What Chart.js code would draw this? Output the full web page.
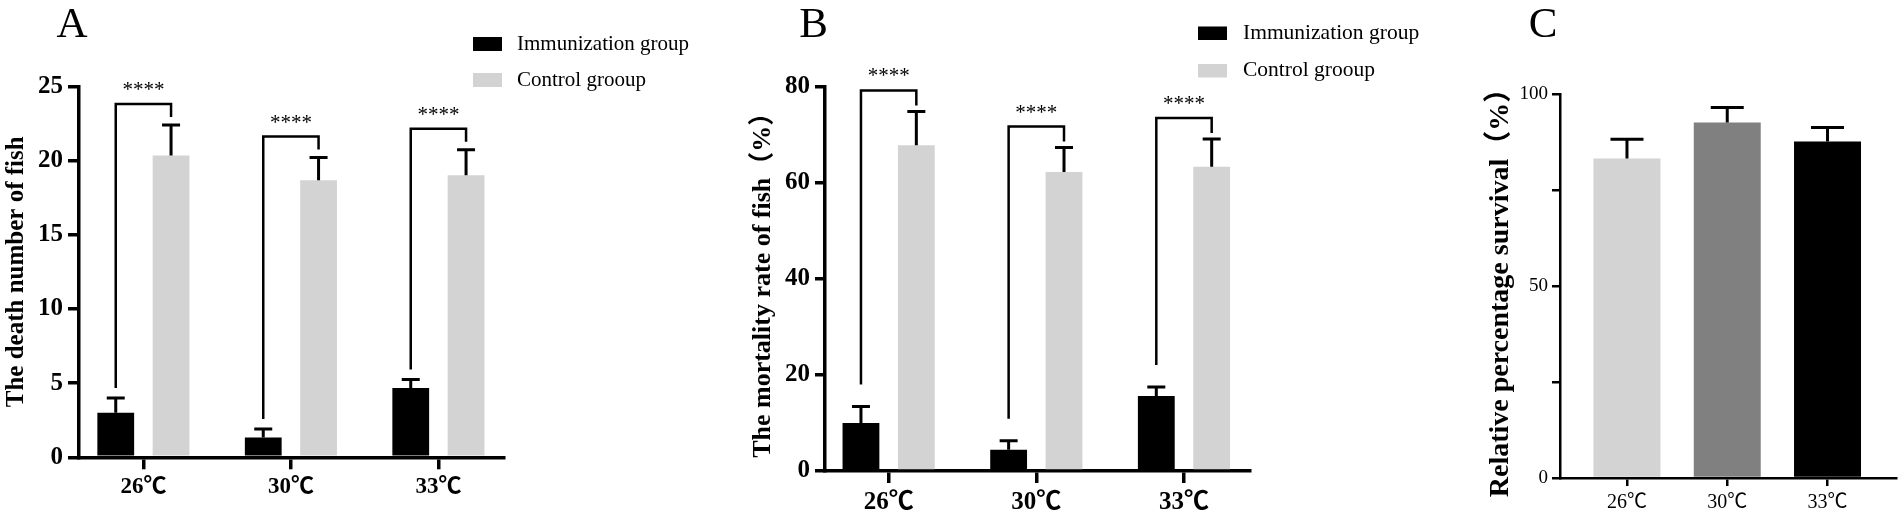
<!DOCTYPE html>
<html>
<head>
<meta charset="utf-8">
<script src="https://cdn.jsdelivr.net/npm/chart.js@4.4.1/dist/chart.umd.min.js"></script>
<style>
html,body{margin:0;padding:0;background:#fff;width:1902px;height:519px;overflow:hidden}
canvas{position:absolute;left:0;top:0}
</style>
</head>
<body>
<canvas id="cA" width="1902" height="519"></canvas>
<canvas id="cB" width="1902" height="519"></canvas>
<canvas id="cC" width="1902" height="519"></canvas>
<script>
// ---------------- data ----------------
const categories = ['26℃', '30℃', '33℃'];
const seriesNames = ['Immunization group', 'Control grooup'];

const deathImm   = [3.0, 1.33, 4.67];
const deathImmSD = [1.0, 0.58, 0.58];
const deathCtrl   = [20.33, 18.67, 19.0];
const deathCtrlSD = [2.07, 1.53, 1.72];

const mortImm   = [10.0, 4.4, 15.6];
const mortImmSD = [3.4, 1.9, 1.9];
const mortCtrl   = [67.8, 62.2, 63.3];
const mortCtrlSD = [7.0, 5.1, 5.8];

const rps   = [83.2, 92.6, 87.6];
const rpsSD = [5.0, 3.9, 3.7];

const significance = ['****', '****', '****'];

const ticksA = [0, 5, 10, 15, 20, 25];
const ticksB = [0, 20, 40, 60, 80];
const ticksC = [0, 25, 50, 75, 100];
const labelledC = [0, 50, 100];

const titleA = 'The death number of fish';
const titleB = 'The mortality rate of fish（%）';
const titleC = 'Relative percentage survival（%）';

// ---------------- styles ----------------
const SERIF = "'Liberation Serif','Noto Sans CJK SC',serif";
const BLACK = '#000000';
const LIGHT = '#d3d3d3';
const MID = '#808080';
Chart.defaults.color = '#000';
Chart.defaults.font.family = SERIF;

// ---------------- plugins ----------------
function errorBarPlugin(sds, cfg) {
  return {
    id: 'errbars',
    afterDatasetsDraw(chart) {
      const ctx = chart.ctx, ys = chart.scales.y;
      ctx.save();
      ctx.strokeStyle = '#000';
      ctx.lineWidth = cfg.lw;
      chart.data.datasets.forEach((ds, i) => {
        chart.getDatasetMeta(i).data.forEach((bar, j) => {
          const top = ys.getPixelForValue(ds.data[j].y + sds[i][j]);
          ctx.beginPath();
          ctx.moveTo(bar.x, bar.y);
          ctx.lineTo(bar.x, top);
          ctx.moveTo(bar.x - cfg.cap, top);
          ctx.lineTo(bar.x + cfg.cap, top);
          ctx.stroke();
        });
      });
      ctx.restore();
    }
  };
}

function bracketPlugin(sds, labels, cfg) {
  return {
    id: 'brackets',
    afterDatasetsDraw(chart) {
      const ctx = chart.ctx, ys = chart.scales.y;
      const d0 = chart.data.datasets[0].data, d1 = chart.data.datasets[1].data;
      const m0 = chart.getDatasetMeta(0).data, m1 = chart.getDatasetMeta(1).data;
      ctx.save();
      ctx.strokeStyle = '#000';
      ctx.fillStyle = '#000';
      ctx.lineWidth = cfg.lw;
      ctx.lineJoin = 'miter';
      ctx.font = cfg.font;
      ctx.textAlign = 'center';
      ctx.textBaseline = 'alphabetic';
      labels.forEach((lab, j) => {
        const xl = m0[j].x, xr = m1[j].x;
        const capL = ys.getPixelForValue(d0[j].y + sds[0][j]);
        const capR = ys.getPixelForValue(d1[j].y + sds[1][j]);
        const rb = capR - cfg.gapR;
        const top = rb - cfg.leg;
        const lb = capL - cfg.gapL;
        ctx.beginPath();
        ctx.moveTo(xl, lb);
        ctx.lineTo(xl, top);
        ctx.lineTo(xr, top);
        ctx.lineTo(xr, rb);
        ctx.stroke();
        ctx.fillText(lab, (xl + xr) / 2, top - cfg.textGap);
      });
      ctx.restore();
    }
  };
}

function legendPlugin(cfg) {
  return {
    id: 'sideLegend',
    afterDraw(chart) {
      const ctx = chart.ctx;
      ctx.save();
      ctx.font = cfg.font;
      ctx.textAlign = 'left';
      ctx.textBaseline = 'middle';
      chart.data.datasets.forEach((ds, i) => {
        const y = cfg.y + i * cfg.gap;
        ctx.fillStyle = ds.backgroundColor;
        ctx.fillRect(cfg.x, y, cfg.w, cfg.h);
        ctx.fillStyle = '#000';
        ctx.fillText(ds.label, cfg.textX, y + cfg.h / 2);
      });
      ctx.restore();
    }
  };
}

function letterPlugin(cfg) {
  return {
    id: 'panelLetter',
    afterDraw(chart) {
      const ctx = chart.ctx;
      ctx.save();
      ctx.font = cfg.font;
      ctx.fillStyle = '#000';
      ctx.textAlign = 'center';
      ctx.textBaseline = 'alphabetic';
      ctx.fillText(cfg.text, cfg.x, cfg.y);
      ctx.restore();
    }
  };
}

// ---------------- chart builder ----------------
function panel(id, cfg) {
  const datasets = cfg.series.map(s => ({
    label: s.label,
    data: s.values.map((v, i) => ({ x: i, y: v })),
    backgroundColor: s.color,
    borderWidth: 0,
    categoryPercentage: cfg.catPct,
    barPercentage: cfg.barPct
  }));
  return new Chart(document.getElementById(id), {
    type: 'bar',
    data: { datasets },
    plugins: cfg.plugins,
    options: {
      responsive: false,
      animation: false,
      events: [],
      layout: { padding: cfg.padding },
      plugins: { legend: { display: false }, tooltip: { enabled: false }, title: { display: false } },
      scales: {
        x: {
          type: 'linear',
          min: cfg.xMin, max: cfg.xMax,
          offset: false,
          z: 1,
          afterBuildTicks: s => { s.ticks = categories.map((_, i) => ({ value: i })); },
          afterFit: s => { s.height = cfg.xHeight; },
          ticks: {
            autoSkip: false, maxRotation: 0, minRotation: 0,
            padding: cfg.xPad, font: cfg.xFont, color: '#000',
            callback: v => categories[v]
          },
          grid: { display: true, drawOnChartArea: false, drawTicks: true, offset: false,
                  tickLength: cfg.xTick, color: '#000', lineWidth: cfg.axisLW },
          border: { display: true, color: '#000', width: cfg.axisLW }
        },
        y: {
          type: 'linear',
          min: 0, max: cfg.yTicks[cfg.yTicks.length - 1],
          z: 1,
          afterBuildTicks: s => { s.ticks = cfg.yTicks.map(v => ({ value: v })); },
          afterFit: s => { s.width = cfg.yWidth; },
          ticks: {
            padding: cfg.yPad, font: cfg.yFont, color: '#000',
            callback: v => (cfg.yLabelled.includes(v) ? String(v) : '')
          },
          grid: { display: true, drawOnChartArea: false, drawTicks: true,
                  tickLength: cfg.yTick, color: '#000', lineWidth: cfg.axisLW },
          border: { display: true, color: '#000', width: cfg.axisLW },
          title: { display: true, text: cfg.yTitle, font: cfg.titleFont, color: '#000',
                   padding: { top: 2, bottom: 0 } }
        }
      }
    }
  });
}

// ---------------- Panel A ----------------
panel('cA', {
  series: [
    { label: seriesNames[0], values: deathImm, color: BLACK },
    { label: seriesNames[1], values: deathCtrl, color: LIGHT }
  ],
  catPct: 0.75, barPct: 0.665,
  padding: { left: 0, top: 86.3, right: 1398, bottom: 0 },
  xMin: -0.4366, xMax: 2.4447,
  xHeight: 61.7, xTick: 12, xPad: 3.5,
  xFont: { size: 23, weight: 'bold' },
  yTicks: ticksA, yLabelled: ticksA,
  yWidth: 79, yTick: 11, yPad: 5,
  yFont: { size: 25, weight: 'bold' },
  yTitle: titleA, titleFont: { size: 25, weight: 'bold' },
  axisLW: 3.5,
  plugins: [
    errorBarPlugin([deathImmSD, deathCtrlSD], { lw: 3, cap: 9 }),
    bracketPlugin([deathImmSD, deathCtrlSD], significance,
      { lw: 2.5, gapR: 8, leg: 13, gapL: 10, textGap: 8, font: '21px ' + SERIF }),
    legendPlugin({ x: 473, y: 37, w: 29, h: 14, gap: 36, textX: 517, font: '21px ' + SERIF }),
    letterPlugin({ text: 'A', x: 72, y: 37, font: '43px ' + SERIF })
  ]
});

// ---------------- Panel B ----------------
panel('cB', {
  series: [
    { label: seriesNames[0], values: mortImm, color: BLACK },
    { label: seriesNames[1], values: mortCtrl, color: LIGHT }
  ],
  catPct: 0.75, barPct: 0.665,
  padding: { left: 745.4, top: 86.5, right: 652, bottom: 0 },
  xMin: -0.431, xMax: 2.447,
  xHeight: 48, xTick: 12, xPad: 4.5,
  xFont: { size: 25, weight: 'bold' },
  yTicks: ticksB, yLabelled: ticksB,
  yWidth: 79.6, yTick: 10, yPad: 5,
  yFont: { size: 25, weight: 'bold' },
  yTitle: titleB, titleFont: { size: 26, weight: 'bold' },
  axisLW: 3.5,
  plugins: [
    errorBarPlugin([mortImmSD, mortCtrlSD], { lw: 3, cap: 9 }),
    bracketPlugin([mortImmSD, mortCtrlSD], significance,
      { lw: 2.5, gapR: 6, leg: 15, gapL: 22, textGap: 8, font: '21px ' + SERIF }),
    legendPlugin({ x: 1198, y: 26.5, w: 29, h: 13.5, gap: 37.5, textX: 1243, font: '21.5px ' + SERIF }),
    letterPlugin({ text: 'B', x: 813.5, y: 37, font: '43px ' + SERIF })
  ]
});

// ---------------- Panel C ----------------
panel('cC', {
  series: [
    { label: 'RPS', values: rps, color: [LIGHT, MID, BLACK] }
  ],
  catPct: 0.8, barPct: 0.835,
  padding: { left: 1482, top: 94, right: 6, bottom: 0 },
  xMin: -0.668, xMax: 2.683,
  xHeight: 41, xTick: 8, xPad: 5,
  xFont: { size: 20, weight: 'normal' },
  yTicks: ticksC, yLabelled: labelledC,
  yWidth: 78, yTick: 8, yPad: 4,
  yFont: { size: 19, weight: 'normal' },
  yTitle: titleC, titleFont: { size: 28, weight: 'bold' },
  axisLW: 2.5,
  plugins: [
    errorBarPlugin([rpsSD], { lw: 3, cap: 16.5 }),
    letterPlugin({ text: 'C', x: 1543, y: 37, font: '43px ' + SERIF })
  ]
});
</script>
</body>
</html>
